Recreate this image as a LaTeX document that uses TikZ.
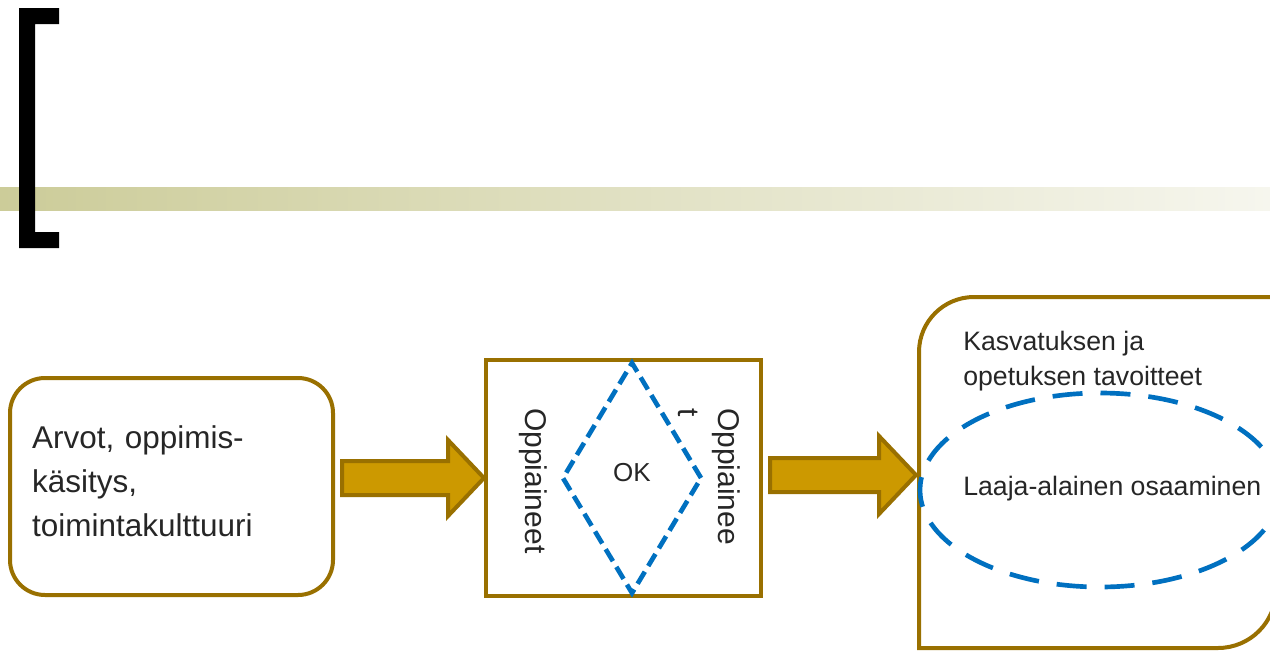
\documentclass[tikz,border=0pt]{standalone}
\usepackage{fontspec}
\setmainfont{Liberation Sans}
\usepackage{xcolor}
\usetikzlibrary{shapes.geometric,calc}

\definecolor{ruskea}{RGB}{153,112,0}
\definecolor{kulta}{RGB}{204,153,0}
\definecolor{sininen}{RGB}{0,112,192}
\definecolor{oliivi}{RGB}{204,204,153}
\definecolor{vaalea}{RGB}{246,246,238}
\definecolor{tekstiv}{RGB}{38,38,38}

\begin{document}
\begin{tikzpicture}[x=0.75pt,y=0.75pt,yscale=-1,xscale=1,
  laatikko/.style={draw=ruskea,line width=3pt},
  nuoli/.style={draw=ruskea,fill=kulta,line width=3pt,line join=miter},
  katko/.style={draw=sininen,line width=3.5pt},
  teksti/.style={text=tekstiv,inner sep=0pt}]
\useasboundingbox (0,0) rectangle (1270,650);

%Shape: Band
\shade [left color=oliivi,right color=vaalea] (0,187) rectangle (1270,210);
%Shape: Bracket
\fill [black] (19,8) -- (59,8) -- (59,24) -- (35,24) -- (35,232) -- (59,232) -- (59,248) -- (19,248) -- cycle;

%Shape: Rounded Rectangle
\node [laatikko, rounded corners=26.25pt, minimum width=242.25pt, minimum height=162.75pt, text width=209pt, text depth=73.5pt, align=left, text=tekstiv, font=\fontsize{23.6}{33}\selectfont] (arvot) at (171.5,486.5) {Arvot, oppimis-\\käsitys,\\toimintakulttuuri};
%Shape: Rectangle
\node [laatikko, minimum width=206.25pt, minimum height=177pt, inner sep=0pt] (aine) at (623.5,478) {};
%Shape: Diamond
\node [diamond, katko, dash pattern=on 10.5pt off 5pt, minimum width=105pt, minimum height=174pt, inner sep=0pt, text depth=9pt, text=tekstiv, font=\fontsize{19.5}{24}\selectfont] (ok) at (632,478) {OK};
%Shape: Rounded Rectangle (two corners)
\node [minimum width=267.75pt, minimum height=263.25pt, outer sep=0pt, inner sep=0pt] (tavoite) at (1097.5,472.5) {};
\draw [laatikko] (tavoite.south west) -- ($(tavoite.north west)+(0,55)$) arc [start angle=180, end angle=270, radius=55] -- (tavoite.north east) -- ($(tavoite.south east)+(0,-58)$) arc [start angle=0, end angle=90, radius=58] -- cycle;
%Shape: Ellipse
\node [ellipse, katko, dash pattern=on 22.5pt off 13.5pt, minimum width=270pt, minimum height=145.5pt, inner sep=0pt] (laaja) at (1100,490) {};

%Block Arrows
\draw [nuoli] (aine.west) -- ++(-36,-38) -- ++(0,21) -- ++(-106,0) -- ++(0,34) -- ++(106,0) -- ++(0,21) -- cycle;
\draw [nuoli] ($(tavoite.west |- aine.east)+(-3,-3)$) -- ++(-37,-39) -- ++(0,22) -- ++(-109,0) -- ++(0,34) -- ++(109,0) -- ++(0,22) -- cycle;

% Text Node
\node [teksti, rotate=-90, anchor=base west, font=\fontsize{22.5}{30}\selectfont] (vasen) at (525,408) {Oppiaineet};
% Text Node
\node [teksti, rotate=-90, anchor=north west, align=left, font=\fontsize{22.5}{30}\selectfont] (oikea) at (740,408) {Oppiainee\\t};
% Text Node
\node [teksti, anchor=north west, align=left, font=\fontsize{20}{26.25}\selectfont] (kasvatus) at (963,331) {Kasvatuksen ja\\opetuksen tavoitteet};
% Text Node
\node [teksti, anchor=base west, font=\fontsize{20}{24}\selectfont] (laajateksti) at (963,495) {Laaja-alainen osaaminen};

\end{tikzpicture}
\end{document}
